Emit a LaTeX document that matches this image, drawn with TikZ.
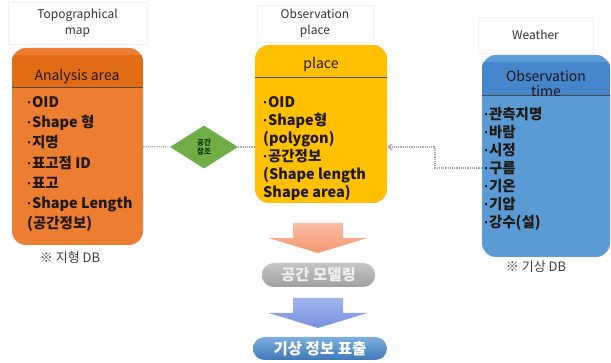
\documentclass[tikz,border=0pt]{standalone}
\usepackage{fontspec}
\setmainfont{Noto Sans CJK KR}
\newfontfamily\dotfont{Liberation Sans}
\newcommand{\itm}{{\dotfont\textperiodcentered}}
\usetikzlibrary{shapes.geometric,arrows.meta,calc}

\definecolor{topofill}{RGB}{237,125,49}
\definecolor{topohead}{RGB}{226,108,22}
\definecolor{placefill}{RGB}{255,192,0}
\definecolor{weatherfill}{RGB}{91,155,213}
\definecolor{weatherhead}{RGB}{70,134,204}
\definecolor{refgreen}{RGB}{112,173,71}
\definecolor{textdark}{RGB}{30,25,20}

\tikzset{
  entity/.style={draw=gray!55, densely dotted, rounded corners=14pt, inner sep=0pt},
  titlebox/.style={draw=gray!12, fill=white, inner sep=0pt, align=center, font=\fontsize{12}{16}\selectfont, text=black!80},
  headtext/.style={inner sep=0pt, align=center, font=\fontsize{14}{15}\selectfont, text=textdark},
  itemlist/.style={inner sep=0pt, anchor=north west, align=left, text=textdark},
  divider/.style={draw=black!70, line width=0.8pt},
  link/.style={draw=gray!70, densely dotted, line width=1.2pt},
  dbnote/.style={inner sep=0pt, font=\fontsize{13}{15}\selectfont, text=black!75},
  stepbox/.style={rounded corners=11.5pt, inner sep=0pt, font=\fontsize{15.5}{17}\selectfont\bfseries}
}

\begin{document}
\begin{tikzpicture}[x=1pt,y=-1pt]
\useasboundingbox (0,0) rectangle (611,363);

\pgfmathsetmacro{\xarrow}{318}%
\pgfmathsetmacro{\wshaft}{50}%
\pgfmathsetmacro{\whead}{99}%
\pgfmathsetmacro{\lshaft}{15}%
\pgfmathsetmacro{\lhead}{15}%

%titles
\node[titlebox, minimum width=139, minimum height=42] (topotitle) at (77.5,23) {Topographical\\map};
\node[titlebox, minimum width=116, minimum height=37] (placetitle) at (315,23.5) {Observation\\place};
\node[titlebox, minimum width=115, minimum height=36] (weathertitle) at (535.5,35) {Weather};

%topo DB
\node[entity, fill=topofill, minimum width=131, minimum height=197] (topo) at (77.5,146.5) {};
\begin{scope}
  \clip[rounded corners=14pt] (topo.north west) rectangle (topo.south east);
  \fill[topohead] ($(topo.north west)+(0,7)$) rectangle ($(topo.north east)+(0,40)$);
\end{scope}
\draw[divider] ($(topo.north west)+(0,40)$) -- ($(topo.north east)+(0,40)$);
\node[headtext] (topohdr) at (77,77) {Analysis area};
\node[itemlist, font=\fontsize{14.5}{20.3}\selectfont\bfseries] (topoitems) at (27,96)
  {\itm OID\\\itm Shape 형\\\itm 지명\\\itm 표고점 ID\\\itm 표고\\\itm Shape Length\\(공간정보)};
\node[dbnote] (topodb) at (70,258) {※ 지형 DB};

%place
\node[entity, fill=placefill, minimum width=132, minimum height=158] (place) at (321,124) {};
\draw[divider] ($(place.north west)+(0,33)$) -- ($(place.north east)+(0,33)$);
\node[headtext] (placehdr) at (321,65) {place};
\node[itemlist, font=\fontsize{14.5}{18}\selectfont\bfseries] (placeitems) at (263,96)
  {\itm OID\\\itm Shape형\\(polygon)\\\itm 공간정보\\(Shape length\\Shape area)};

%weather
\node[entity, fill=weatherfill, minimum width=128, minimum height=202] (weather) at (546,156) {};
\begin{scope}
  \clip[rounded corners=14pt] (weather.north west) rectangle (weather.south east);
  \fill[weatherhead] ($(weather.north west)+(0,7)$) rectangle ($(weather.north east)+(0,41)$);
\end{scope}
\draw[divider] ($(weather.north west)+(0,41)$) -- ($(weather.north east)+(0,41)$);
\node[headtext] (weatherhdr) at (546,84) {Observation\\time};
\node[itemlist, font=\fontsize{14.5}{18}\selectfont\bfseries] (weatheritems) at (484,107)
  {\itm 관측지명\\\itm 바람\\\itm 시정\\\itm 구름\\\itm 기온\\\itm 기압\\\itm 강수(설)};
\node[dbnote] (weatherdb) at (536,267) {※ 기상 DB};

%spatial reference
\node[diamond, fill=refgreen, minimum width=68, minimum height=43, inner sep=0pt, align=center,
  font=\fontsize{7.5}{9}\selectfont\bfseries, text=green!20!black] (ref) at (204,147) {공간\\참조};

%links
\draw[link] (topo) -- (ref);
\draw[link] (ref.east) -- (ref.east -| place.west);
\coordinate (bend) at (435,168);
\draw[link, -{Straight Barb[length=4pt,width=6pt]}] (weather.west |- bend) -- (bend) |- (place.east |- ref);

%steps
\node[stepbox, top color=gray!45, bottom color=gray!75, text=gray!12, minimum width=113, minimum height=24] (model) at (318.5,275) {공간 모델링};
\node[stepbox, top color=weatherfill!80!white, bottom color=weatherhead!90!black, text=white, minimum width=134, minimum height=23] (show) at (320,348.5) {기상 정보 표출};

%arrows
\path[top color={rgb,255:red,250;green,190;blue,165}, bottom color={rgb,255:red,244;green,150;blue,110}]
  (\xarrow-\wshaft/2,223) -- ++(\wshaft,0) -- ++(0,\lshaft) -- (\xarrow+\whead/2,223+\lshaft)
  -- (\xarrow,223+\lshaft+\lhead) -- (\xarrow-\whead/2,223+\lshaft) -- (\xarrow-\wshaft/2,223+\lshaft) -- cycle;
\path[top color={rgb,255:red,160;green,180;blue,235}, bottom color={rgb,255:red,120;green,145;blue,225}]
  (\xarrow-\wshaft/2,298) -- ++(\wshaft,0) -- ++(0,\lshaft) -- (\xarrow+\whead/2,298+\lshaft)
  -- (\xarrow,298+\lshaft+\lhead) -- (\xarrow-\whead/2,298+\lshaft) -- (\xarrow-\wshaft/2,298+\lshaft) -- cycle;

\end{tikzpicture}
\end{document}
